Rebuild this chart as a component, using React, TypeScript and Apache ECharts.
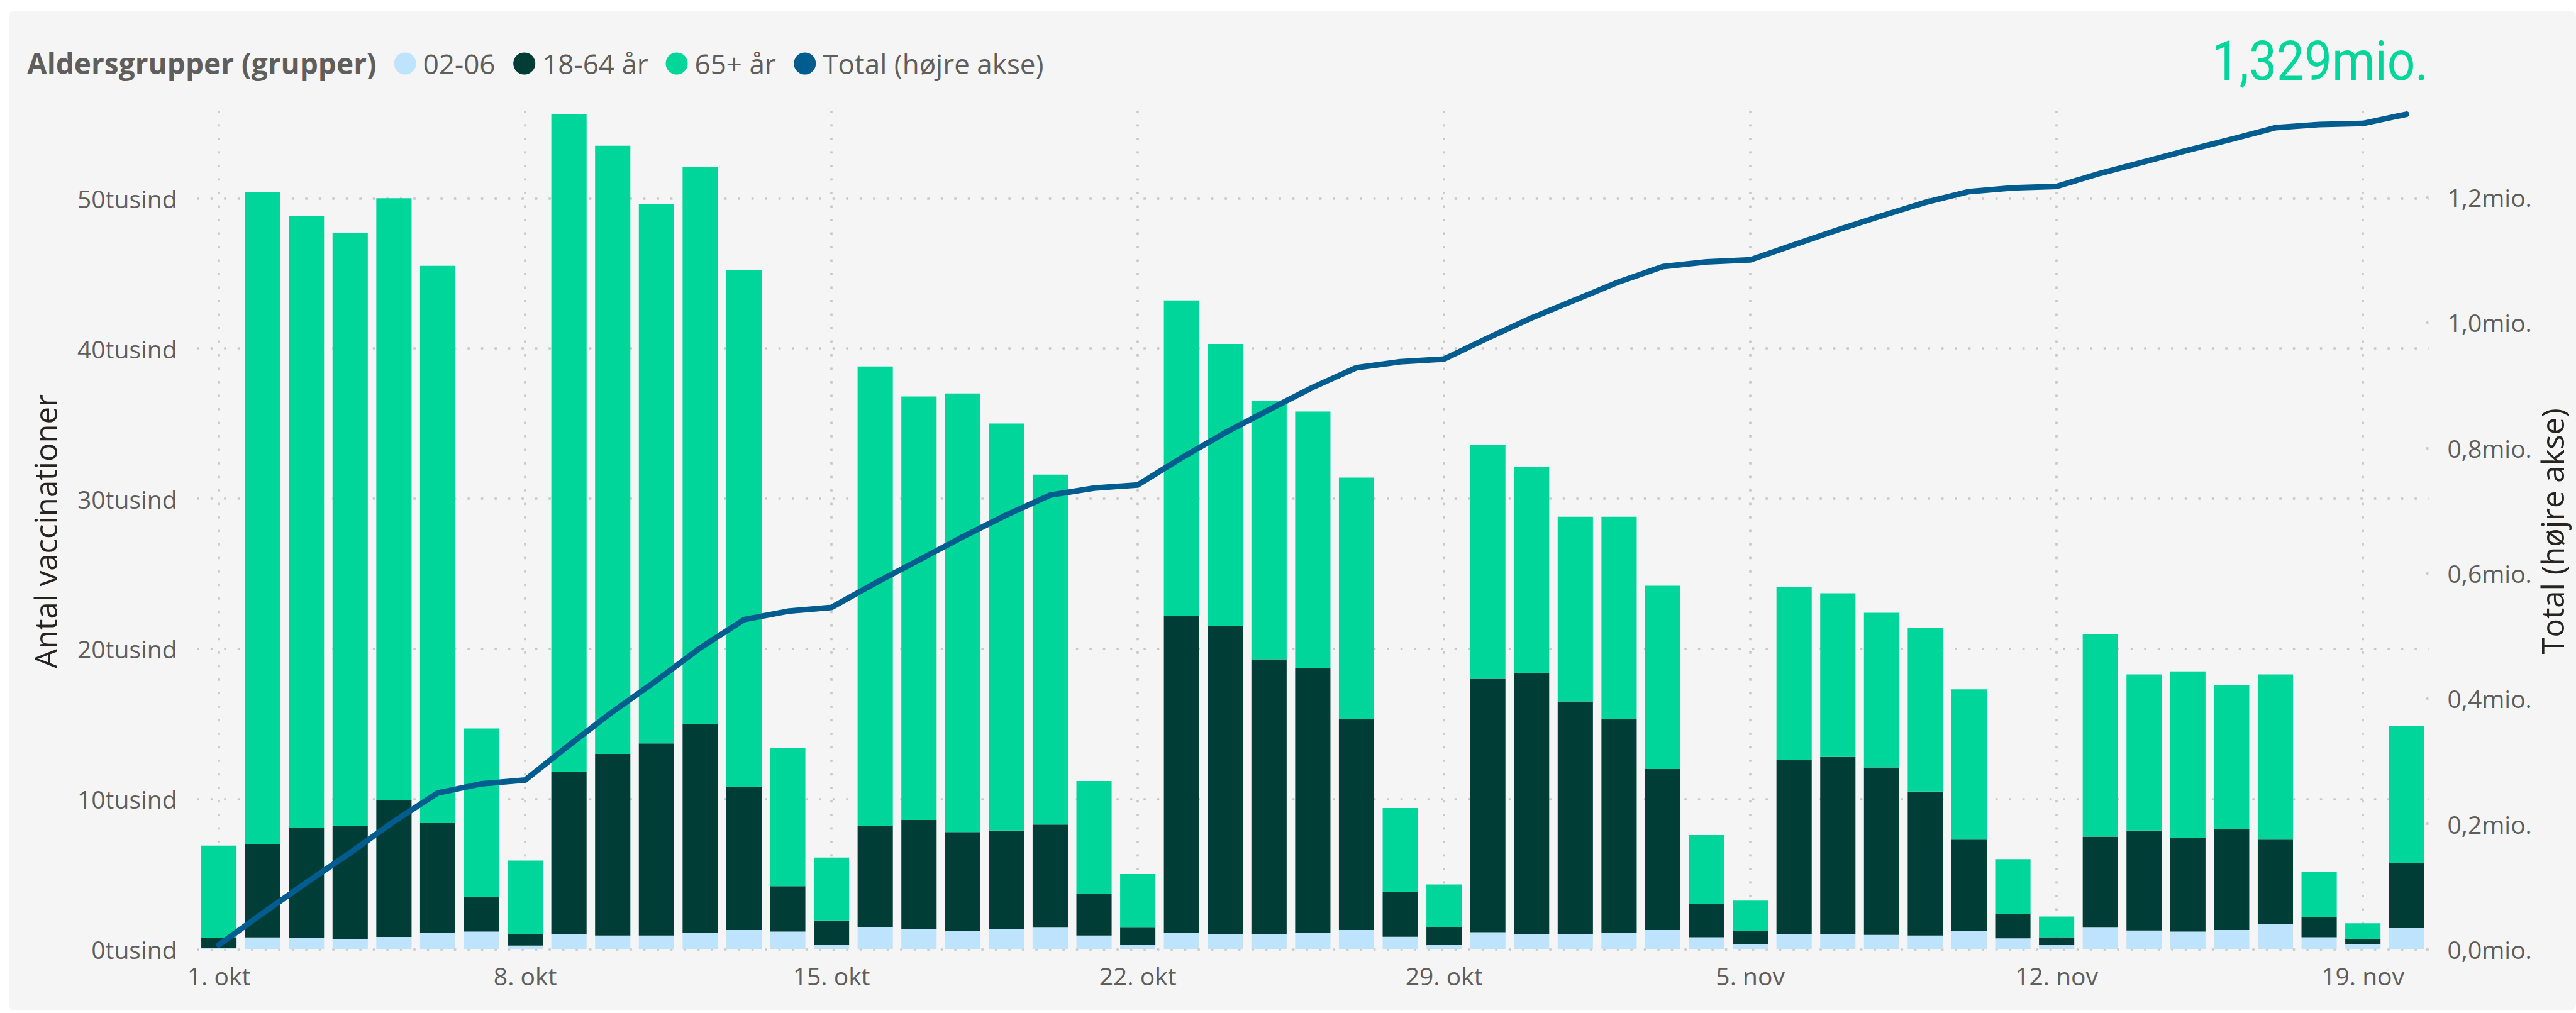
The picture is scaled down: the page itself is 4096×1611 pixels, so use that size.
import React, { useEffect, useRef } from "react";
import * as echarts from "echarts";

// ---------- data (values in thousands) ----------
const categories = [
  "1. okt", "2. okt", "3. okt", "4. okt", "5. okt", "6. okt", "7. okt", "8. okt", "9. okt", "10. okt",
  "11. okt", "12. okt", "13. okt", "14. okt", "15. okt", "16. okt", "17. okt", "18. okt", "19. okt", "20. okt",
  "21. okt", "22. okt", "23. okt", "24. okt", "25. okt", "26. okt", "27. okt", "28. okt", "29. okt", "30. okt",
  "31. okt", "1. nov", "2. nov", "3. nov", "4. nov", "5. nov", "6. nov", "7. nov", "8. nov", "9. nov",
  "10. nov", "11. nov", "12. nov", "13. nov", "14. nov", "15. nov", "16. nov", "17. nov", "18. nov", "19. nov",
  "20. nov",
];

const age0206 = [
  0.08, 0.78, 0.73, 0.69, 0.82, 1.08, 1.17, 0.24, 0.98, 0.91,
  0.91, 1.1, 1.28, 1.17, 0.27, 1.45, 1.36, 1.21, 1.36, 1.43,
  0.91, 0.27, 1.1, 1.02, 1.02, 1.1, 1.28, 0.83, 0.27, 1.13,
  0.98, 0.98, 1.1, 1.28, 0.8, 0.31, 1.02, 1.02, 0.95, 0.91,
  1.21, 0.72, 0.27, 1.43, 1.25, 1.17, 1.28, 1.66, 0.8, 0.31,
  1.4,
];

const age1864 = [
  0.68, 6.22, 7.37, 7.51, 9.08, 7.32, 2.33, 0.78, 10.82, 12.09,
  12.79, 13.9, 9.52, 3.03, 1.65, 6.75, 7.24, 6.59, 6.54, 6.87,
  2.79, 1.16, 21.1, 20.48, 18.28, 17.6, 14.02, 2.97, 1.2, 16.87,
  17.42, 15.52, 14.2, 10.72, 2.2, 0.9, 11.58, 11.78, 11.15, 9.59,
  6.09, 1.61, 0.53, 6.07, 6.65, 6.23, 6.72, 5.64, 1.34, 0.37,
  4.32,
];

const age65 = [
  6.14, 43.4, 40.7, 39.5, 40.1, 37.1, 11.2, 4.88, 43.8, 40.5,
  35.9, 37.1, 34.4, 9.2, 4.18, 30.6, 28.2, 29.2, 27.1, 23.3,
  7.5, 3.57, 21.0, 18.8, 17.2, 17.1, 16.1, 5.6, 2.84, 15.6,
  13.7, 12.3, 13.5, 12.2, 4.6, 2.02, 11.5, 10.9, 10.3, 10.9,
  10.0, 3.67, 1.38, 13.5, 10.4, 11.1, 9.6, 11.0, 2.99, 1.05,
  9.13,
];

// cumulative total (right axis), thousands
const totalCumulative = [
  6.9, 57.3, 106.1, 153.8, 203.8, 249.3, 264.0, 269.9, 325.5, 379.0,
  428.6, 480.7, 525.9, 539.3, 545.4, 584.2, 621.0, 658.0, 693.0, 724.6,
  735.8, 740.8, 784.0, 824.3, 860.8, 896.6, 928.0, 937.4, 941.7, 975.3,
  1007.4, 1036.2, 1065.0, 1089.2, 1096.8, 1100.1, 1124.2, 1147.9, 1170.3, 1191.7,
  1209.0, 1215.0, 1217.2, 1238.2, 1256.5, 1275.0, 1292.6, 1310.9, 1316.0, 1317.7,
  1332.5,
];

const seriesNames = ["02-06", "18-64 år", "65+ år", "Total (højre akse)"];
const headline = "1,329mio.";
const legendTitle = "Aldersgrupper (grupper)";
const leftTitle = "Antal vaccinationer";
const rightTitle = "Total (højre akse)";

// ---------- styles ----------
const FONT = '"Open Sans", "Segoe UI", sans-serif';
const C_LIGHT = "#BEE3FC";
const C_DARK = "#003D36";
const C_GREEN = "#00D69A";
const C_LINE = "#015C8F";
const C_TEXT = "#605E5C";
const C_TITLE = "#252423";
const C_GRID = "#C8C8C8";

const gridDots = { color: C_GRID, width: 3.6, type: [3.6, 17.9] as number[] };

function mkLegend(name: string, left: number) {
  return {
    data: [name],
    left,
    top: 79,
    padding: 0,
    icon: "circle",
    itemWidth: 35,
    itemHeight: 35,
    itemGap: 0,
    selectedMode: false,
    textStyle: { color: C_TEXT, fontSize: 44, fontFamily: FONT, padding: [0, 0, 0, 6] },
  };
}

export default function App() {
  const ref = useRef<HTMLDivElement>(null);

  useEffect(() => {
    if (!ref.current) return;
    const chart = echarts.init(ref.current, null, { renderer: "svg" });
    const option: any = {
      animation: false,
      backgroundColor: "transparent",
      grid: { left: 313.3, right: 234.5, top: 176.1, bottom: 101.5, containLabel: false },
      legend: [
        mkLegend(seriesNames[0], 626.7),
        mkLegend(seriesNames[1], 816.2),
        mkLegend(seriesNames[2], 1058.5),
        mkLegend(seriesNames[3], 1262.3),
      ],
      xAxis: {
        type: "category",
        data: categories,
        boundaryGap: true,
        axisLine: { show: false },
        axisTick: { show: false },
        axisLabel: { interval: 6, color: C_TEXT, fontSize: 39, fontFamily: FONT, margin: 22 },
        splitLine: { show: true, interval: 6, alignWithLabel: true, lineStyle: gridDots },
      },
      yAxis: [
        {
          type: "value",
          min: 0,
          max: 55.83,
          interval: 10,
          axisLine: { show: false },
          axisTick: { show: false },
          axisLabel: {
            showMaxLabel: false,
            color: C_TEXT,
            fontSize: 39,
            fontFamily: FONT,
            margin: 31.7,
            formatter: (v: number) => `${v}tusind`,
          },
          splitLine: { show: true, showMaxLine: false, lineStyle: gridDots },
        },
        {
          type: "value",
          position: "right",
          min: 0,
          max: 1338,
          interval: 200,
          axisLine: { show: false },
          axisTick: { show: true, inside: true, length: 4.5, lineStyle: { color: C_GRID, width: 3.6 } },
          axisLabel: {
            showMaxLabel: false,
            color: C_TEXT,
            fontSize: 39,
            fontFamily: FONT,
            margin: 30,
            formatter: (v: number) => `${(v / 1000).toFixed(1).replace(".", ",")}mio.`,
          },
          splitLine: { show: false },
        },
      ],
      graphic: [
        {
          type: "text",
          x: 42.9,
          y: 100,
          style: {
            text: legendTitle,
            fill: C_TEXT,
            fontSize: 46,
            fontWeight: "bold",
            fontFamily: FONT,
            align: "left",
            verticalAlign: "middle",
          },
        },
        {
          type: "text",
          x: 3861,
          y: 96.6,
          scaleX: 0.9,
          style: {
            text: headline,
            fill: C_GREEN,
            fontSize: 87,
            fontFamily: "Roboto, sans-serif",
            align: "right",
            verticalAlign: "middle",
          },
        },
        {
          type: "text",
          x: 71.5,
          y: 845,
          rotation: Math.PI / 2,
          style: {
            text: leftTitle,
            fill: C_TITLE,
            fontSize: 49,
            fontFamily: FONT,
            align: "center",
            verticalAlign: "middle",
          },
        },
        {
          type: "text",
          x: 4058,
          y: 845,
          rotation: Math.PI / 2,
          style: {
            text: rightTitle,
            fill: C_TITLE,
            fontSize: 49,
            fontFamily: FONT,
            align: "center",
            verticalAlign: "middle",
          },
        },
      ],
      series: [
        {
          name: seriesNames[0],
          type: "bar",
          stack: "age",
          yAxisIndex: 0,
          barCategoryGap: "19.4%",
          itemStyle: { color: C_LIGHT },
          data: age0206,
        },
        {
          name: seriesNames[1],
          type: "bar",
          stack: "age",
          yAxisIndex: 0,
          barCategoryGap: "19.4%",
          itemStyle: { color: C_DARK },
          data: age1864,
        },
        {
          name: seriesNames[2],
          type: "bar",
          stack: "age",
          yAxisIndex: 0,
          barCategoryGap: "19.4%",
          itemStyle: { color: C_GREEN },
          data: age65,
        },
        {
          name: seriesNames[3],
          type: "line",
          yAxisIndex: 1,
          data: totalCumulative,
          symbol: "none",
          showSymbol: false,
          z: 5,
          itemStyle: { color: C_LINE },
          lineStyle: { color: C_LINE, width: 9, cap: "round", join: "round" },
        },
      ],
    };
    chart.setOption(option);
    return () => chart.dispose();
  }, []);

  return (
    <div
      style={{
        position: "absolute",
        left: 0,
        top: 0,
        width: 4096,
        height: 1611,
        background: "#FFFFFF",
        overflow: "hidden",
      }}
    >
      <div
        style={{
          position: "absolute",
          left: 14.3,
          top: 17,
          right: 0,
          bottom: 3.6,
          background: "#F5F5F5",
          borderRadius: 9,
        }}
      />
      <div ref={ref} style={{ position: "absolute", left: 0, top: 0, width: 4096, height: 1611 }} />
    </div>
  );
}
